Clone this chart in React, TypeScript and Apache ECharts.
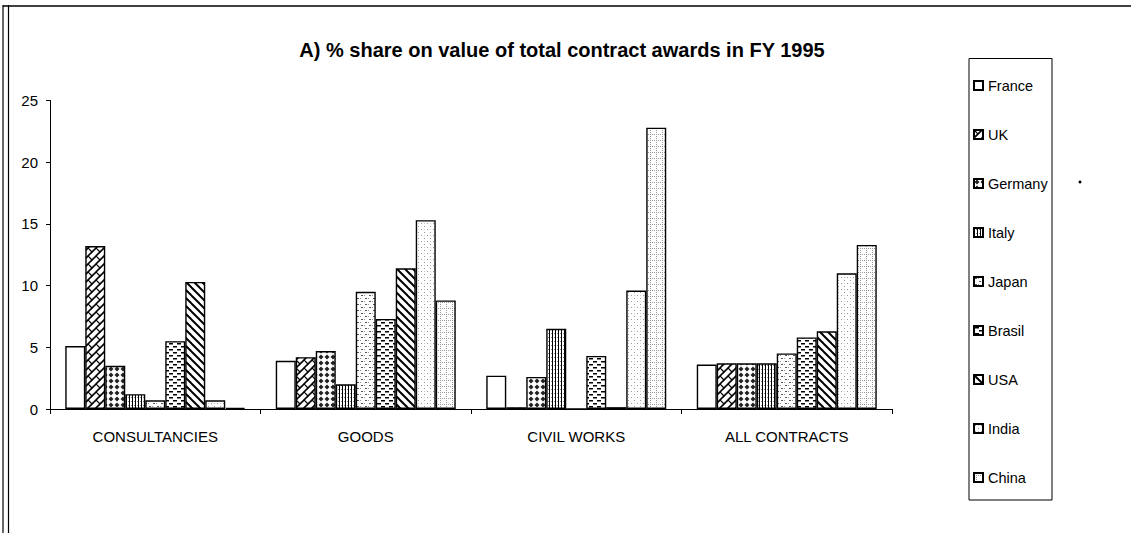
import React, { useEffect, useRef } from "react";
import * as echarts from "echarts";

const categories = ["CONSULTANCIES", "GOODS", "CIVIL WORKS", "ALL CONTRACTS"];
const seriesNames = ["France", "UK", "Germany", "Italy", "Japan", "Brasil", "USA", "India", "China"];
const france = [5.1, 3.9, 2.7, 3.6];
const uk = [13.2, 4.2, 0.15, 3.7];
const germany = [3.5, 4.7, 2.6, 3.7];
const italy = [1.2, 2.0, 6.5, 3.7];
const japan = [0.7, 9.5, 0, 4.5];
const brasil = [5.5, 7.3, 4.3, 5.8];
const usa = [10.3, 11.4, 0.15, 6.3];
const india = [0.7, 15.3, 9.6, 11.0];
const china = [0.1, 8.8, 22.8, 13.3];
const seriesValues = [france, uk, germany, italy, japan, brasil, usa, india, china];
const yTicks = { min: 0, max: 25, interval: 5 };
const titleText = "A) % share on value of total contract awards in FY 1995";

const FONT = "'Liberation Sans', Arial, sans-serif";

function tile(w: number, h: number, draw: (ctx: CanvasRenderingContext2D) => void) {
  const c = document.createElement("canvas");
  c.width = w;
  c.height = h;
  const ctx = c.getContext("2d")!;
  ctx.fillStyle = "#fff";
  ctx.fillRect(0, 0, w, h);
  draw(ctx);
  return c;
}

function makePatterns() {
  const line = (ctx: CanvasRenderingContext2D, pts: number[][], lw: number, col = "#000") => {
    ctx.strokeStyle = col;
    ctx.lineWidth = lw;
    ctx.beginPath();
    ctx.moveTo(pts[0][0], pts[0][1]);
    ctx.lineTo(pts[1][0], pts[1][1]);
    ctx.stroke();
  };
  const uk = tile(8, 8, (ctx) => {
    line(ctx, [[-1, 9], [9, -1]], 1.6);
    line(ctx, [[-1, 1], [1, -1]], 1.6);
    line(ctx, [[7, 9], [9, 7]], 1.6);
    line(ctx, [[0, 0], [4, 4]], 1.2);
  });
  const germany = tile(6, 6, (ctx) => {
    ctx.fillStyle = "#222";
    ctx.beginPath();
    ctx.moveTo(3, 0.5);
    ctx.lineTo(5.5, 3);
    ctx.lineTo(3, 5.5);
    ctx.lineTo(0.5, 3);
    ctx.closePath();
    ctx.fill();
  });
  const italy = tile(3, 4, (ctx) => {
    ctx.fillStyle = "#000";
    ctx.fillRect(0, 0, 1, 4);
    ctx.fillStyle = "#888";
    ctx.fillRect(2, 1, 1, 1);
  });
  const japan = tile(8, 6, (ctx) => {
    ctx.fillStyle = "#555";
    ctx.fillRect(1, 1, 2, 1);
    ctx.fillRect(5, 4, 2, 1);
    ctx.fillStyle = "#999";
    ctx.fillRect(4, 1, 1, 1);
    ctx.fillRect(0, 4, 1, 1);
  });
  const brasil = tile(8, 6, (ctx) => {
    ctx.fillStyle = "#000";
    ctx.fillRect(1, 1, 4, 1.5);
    ctx.fillRect(5, 4, 3, 1.5);
    ctx.fillRect(0, 4, 1, 1.5);
  });
  const usa = tile(8, 8, (ctx) => {
    line(ctx, [[-1, -1], [9, 9]], 2);
    line(ctx, [[7, -1], [9, 1]], 2);
    line(ctx, [[-1, 7], [1, 9]], 2);
  });
  const india = tile(6, 6, (ctx) => {
    ctx.fillStyle = "#999";
    ctx.fillRect(1, 1, 1, 1);
    ctx.fillRect(4, 4, 1, 1);
    ctx.fillStyle = "#ccc";
    ctx.fillRect(4, 1, 1, 1);
  });
  const china = tile(6, 6, (ctx) => {
    ctx.fillStyle = "#999";
    ctx.fillRect(2, 0, 1, 1);
    ctx.fillRect(2, 2, 1, 1);
    ctx.fillRect(2, 4, 1, 1);
    ctx.fillRect(0, 2, 1, 1);
    ctx.fillRect(4, 2, 1, 1);
  });
  return [null, uk, germany, italy, japan, brasil, usa, india, china];
}

export default function App() {
  const ref = useRef<HTMLDivElement>(null);
  useEffect(() => {
    if (!ref.current) return;
    const chart = echarts.init(ref.current, undefined, { renderer: "svg" });
    const pats = makePatterns();
    const series = seriesNames.map((name, i) => {
      const p = pats[i];
      const color: any = p
        ? { image: p, repeat: "repeat", imageWidth: p.width, imageHeight: p.height }
        : "#fff";
      return {
        name,
        type: "bar",
        data: seriesValues[i],
        barGap: "0%",
        barCategoryGap: "14.5%",
        itemStyle: { color, borderColor: "#000", borderWidth: 1.4 },
      };
    });
    chart.setOption({
      animation: false,
      backgroundColor: "#fff",
      title: {
        text: titleText,
        left: 557,
        top: 35,
        textAlign: "center",
        textStyle: { fontFamily: FONT, fontSize: 20, fontWeight: "bold", color: "#000" },
      },
      legend: {
        orient: "vertical",
        left: 968,
        top: 73,
        itemWidth: 9,
        itemHeight: 9,
        itemGap: 34,
        icon: "rect",
        selectedMode: false,
        textStyle: { fontFamily: FONT, fontSize: 14.5, color: "#000", lineHeight: 14.5 },
        data: seriesNames,
      },
      grid: { left: 50, right: 239, top: 100.5, bottom: 124 },
      xAxis: {
        type: "category",
        data: categories,
        axisLine: { lineStyle: { color: "#000", width: 1 } },
        axisTick: { show: true, length: 5, lineStyle: { color: "#000" } },
        axisLabel: { fontFamily: FONT, fontSize: 15, color: "#000", margin: 20 },
      },
      yAxis: {
        type: "value",
        min: yTicks.min,
        max: yTicks.max,
        interval: yTicks.interval,
        axisLine: { show: true, lineStyle: { color: "#000", width: 1 } },
        axisTick: { show: true, length: 4, lineStyle: { color: "#000" } },
        splitLine: { show: false },
        axisLabel: { fontFamily: FONT, fontSize: 15, color: "#000", margin: 12 },
      },
      graphic: [
        { type: "rect", shape: { x: 969, y: 58.5, width: 83, height: 441.5 }, style: { fill: "none", stroke: "#000", lineWidth: 1 }, z: -1 },
        { type: "circle", shape: { cx: 1080, cy: 182, r: 1.5 }, style: { fill: "#000" } },
        { type: "line", shape: { x1: 3, y1: 5, x2: 3, y2: 533 }, style: { stroke: "#000", lineWidth: 1.2 } },
        { type: "line", shape: { x1: 8.5, y1: 5, x2: 8.5, y2: 533 }, style: { stroke: "#000", lineWidth: 1.2 } },
        { type: "line", shape: { x1: 3, y1: 6, x2: 1131, y2: 6 }, style: { stroke: "#000", lineWidth: 1.5 } },
      ],
      series,
    });
    return () => chart.dispose();
  }, []);
  return (
    <div
      ref={ref}
      style={{ position: "fixed", left: 0, top: 0, width: 1131, height: 533, background: "#fff" }}
    />
  );
}
